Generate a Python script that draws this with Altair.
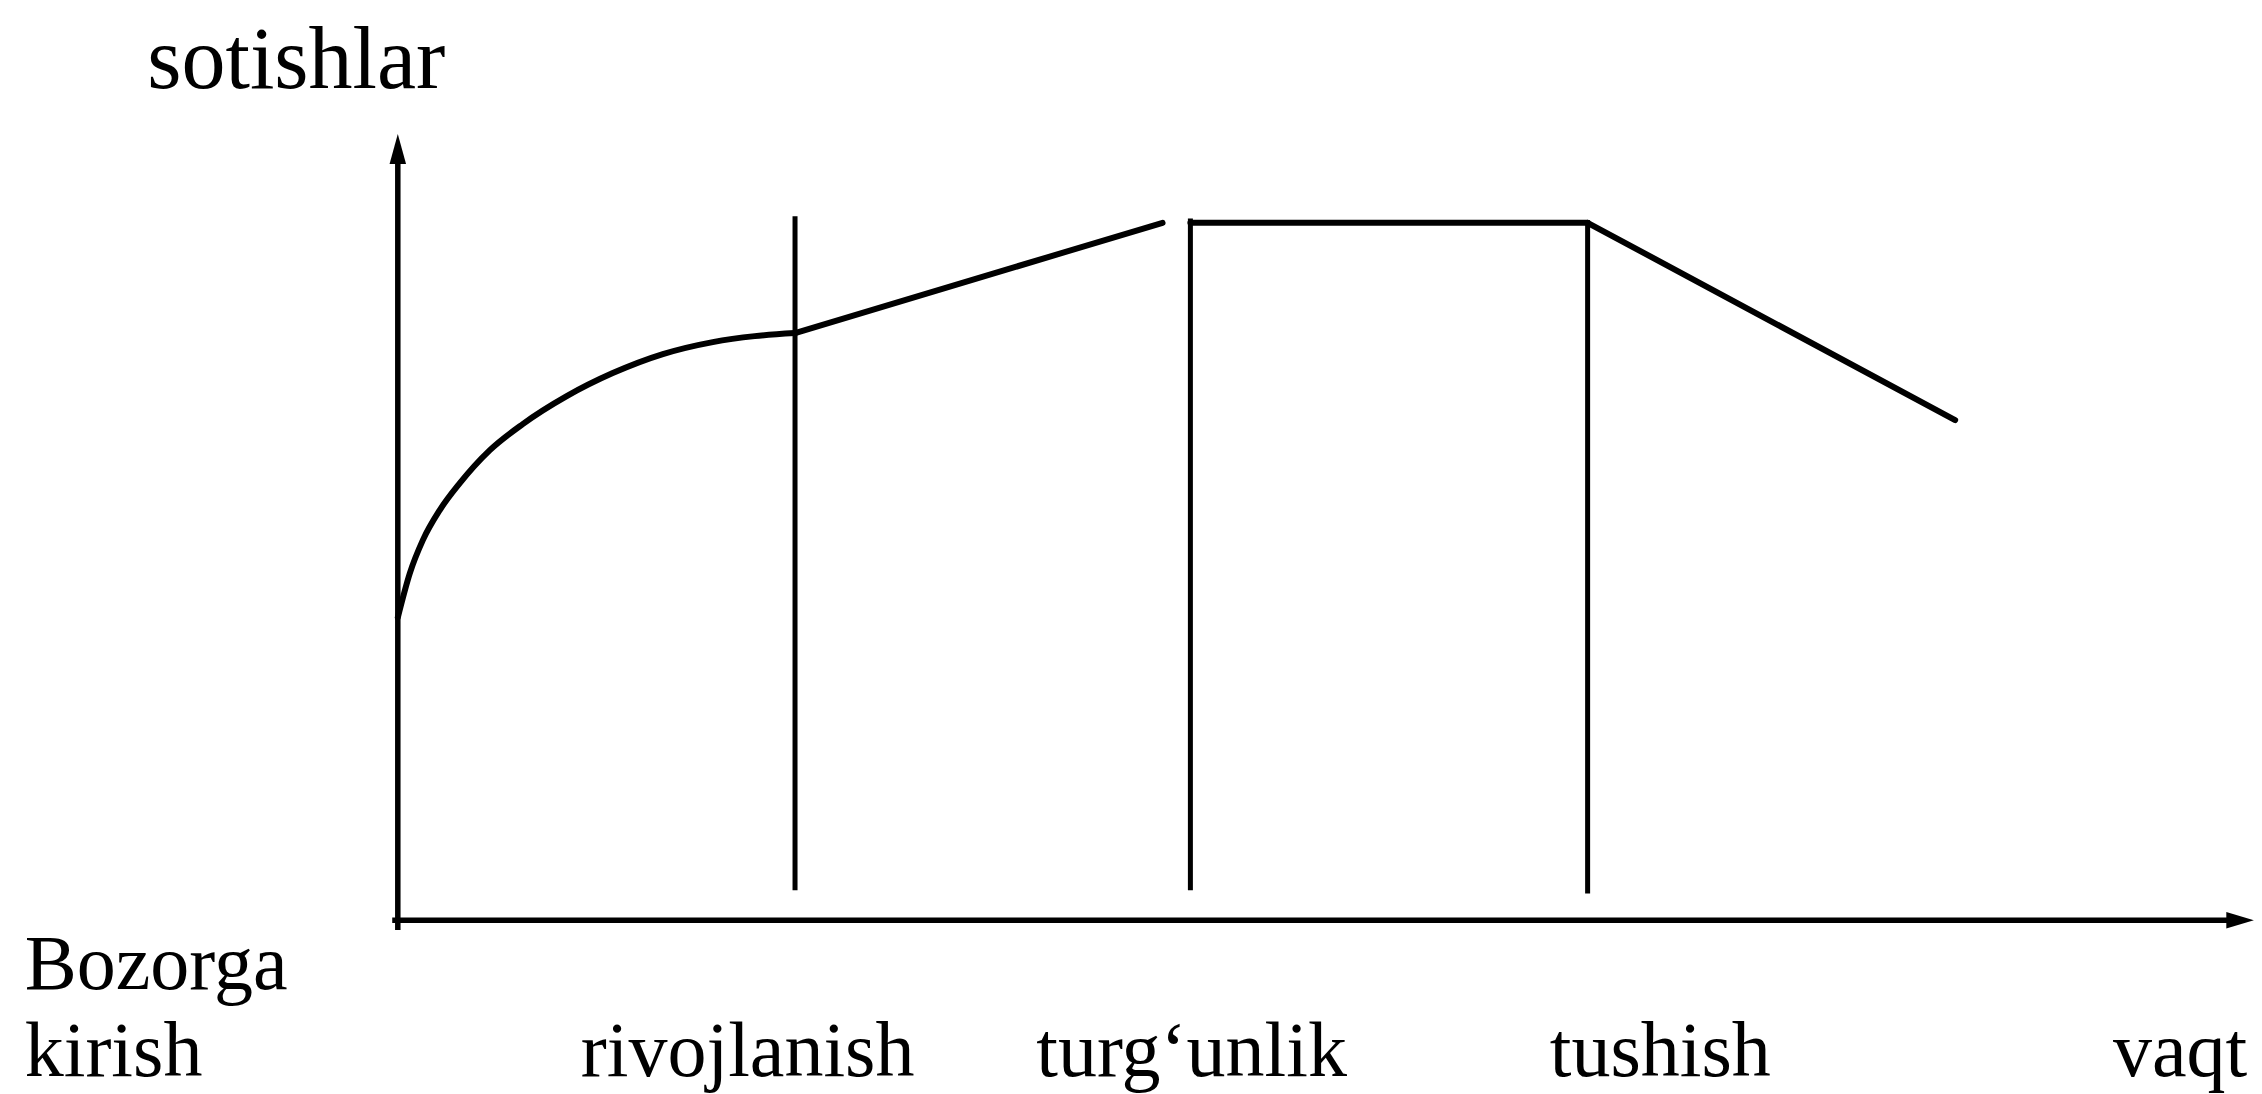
import altair as alt
import pandas as pd

# ---- data (time units / sales units) ----
curve_t = [0.0, 0.65, 1.35, 2.26, 3.34, 4.96, 6.73, 9.10, 11.58, 14.28, 16.97, 19.23, 21.4]
curve_s = [36.5, 41.85, 45.83, 49.45, 52.70, 56.68, 59.82, 63.19, 65.97, 68.26, 69.71, 70.43, 70.8]

growth_t = [21.4, 41.2]
growth_s = [70.8, 84.1]
plateau_t = [42.7, 64.1]
plateau_s = [84.1, 84.1]
decline_t = [64.1, 83.9]
decline_s = [84.1, 60.3]

stage_bounds_t = [21.4, 42.7, 64.1]
stage_top_s = [84.9, 84.6, 84.4]
stage_bottom_s = [3.6, 3.6, 3.2]

stage_labels = ["rivojlanish", "turg\u2018unlik", "tushish", "vaqt"]
stage_label_t = [9.86, 34.4, 62.06, 92.4]
bottom_row_s = -18.8

entry_labels = ["Bozorga", "kirish"]
entry_label_s = [-8.3, -18.8]
entry_label_t = -20.1

y_title = "sotishlar"
y_title_t, y_title_s = -13.5, 100.3

y_arrow_s = 93.0
x_arrow_t = 99.25

W, H = 2246, 1086
PX_S = 1078 / 130.0
xs = alt.Scale(domain=[-21, 100], range=[0, W], nice=False, zero=False)
ys = alt.Scale(domain=[110 - H / PX_S, 110], range=[H, 0], nice=False, zero=False)

def X(f):
    return alt.X(f, type="quantitative", scale=xs, axis=None)

def Y(f):
    return alt.Y(f, type="quantitative", scale=ys, axis=None)

# curve (smooth)
curve_df = pd.DataFrame({"t": curve_t, "s": curve_s})
curve = alt.Chart(curve_df).mark_line(
    color="black", strokeWidth=6, interpolate="monotone", strokeCap="round"
).encode(x=X("t"), y=Y("s"))

# straight segments
seg_rows = []
for name, tt, ss in [("growth", growth_t, growth_s), ("plateau", plateau_t, plateau_s),
                     ("decline", decline_t, decline_s)]:
    for i, (a, b) in enumerate(zip(tt, ss)):
        seg_rows.append({"seg": name, "t": a, "s": b, "o": i})
seg_df = pd.DataFrame(seg_rows)
segs = alt.Chart(seg_df).mark_line(
    color="black", strokeWidth=6, strokeCap="round"
).encode(x=X("t"), y=Y("s"), detail="seg:N", order="o:Q")

# stage boundary lines
bounds_df = pd.DataFrame({"t": stage_bounds_t, "top": stage_top_s, "bot": stage_bottom_s})
bounds = alt.Chart(bounds_df).mark_rule(color="black", strokeWidth=5).encode(
    x=X("t"), y=Y("bot"), y2="top:Q"
)

# axes
yaxis_df = pd.DataFrame({"t": [0.0], "a": [-1.2], "b": [y_arrow_s]})
yaxis = alt.Chart(yaxis_df).mark_rule(color="black", strokeWidth=5.5).encode(
    x=X("t"), y=Y("a"), y2="b:Q"
)
xaxis_df = pd.DataFrame({"s": [0.0], "a": [-0.3], "b": [x_arrow_t]})
xaxis = alt.Chart(xaxis_df).mark_rule(color="black", strokeWidth=5.5).encode(
    y=Y("s"), x=X("a"), x2="b:Q"
)

arrow_up_df = pd.DataFrame({"t": [0.0], "s": [y_arrow_s]})
arrow_up = alt.Chart(arrow_up_df).mark_point(
    shape="M0,-1L-0.55,1L0.55,1Z", filled=True, color="black", opacity=1, size=900
).encode(x=X("t"), y=Y("s"))

arrow_right_df = pd.DataFrame({"t": [x_arrow_t], "s": [0.0]})
arrow_right = alt.Chart(arrow_right_df).mark_point(
    shape="M1,0L-1,-0.6L-1,0.6Z", filled=True, color="black", opacity=1, size=760
).encode(x=X("t"), y=Y("s"))

FONT = "Liberation Serif"

stage_df = pd.DataFrame({"label": stage_labels, "t": stage_label_t,
                         "s": [bottom_row_s] * len(stage_labels)})
stage_text = alt.Chart(stage_df).mark_text(
    font=FONT, fontSize=78, align="left", baseline="alphabetic", color="black"
).encode(x=X("t"), y=Y("s"), text="label:N")

entry_df = pd.DataFrame({"label": entry_labels, "t": [entry_label_t] * 2, "s": entry_label_s})
entry_text = alt.Chart(entry_df).mark_text(
    font=FONT, fontSize=78, align="left", baseline="alphabetic", color="black"
).encode(x=X("t"), y=Y("s"), text="label:N")

title_df = pd.DataFrame({"label": [y_title], "t": [y_title_t], "s": [y_title_s]})
title_text = alt.Chart(title_df).mark_text(
    font=FONT, fontSize=88, align="left", baseline="alphabetic", color="black"
).encode(x=X("t"), y=Y("s"), text="label:N")

chart = alt.layer(
    bounds, yaxis, xaxis, curve, segs, arrow_up, arrow_right,
    stage_text, entry_text, title_text
).properties(
    width=W, height=H,
    autosize=alt.AutoSizeParams(type="none"),
    padding=0,
    background="white",
).configure_view(stroke=None)

chart.save("out.html", embed_options={"renderer": "svg", "actions": False})
